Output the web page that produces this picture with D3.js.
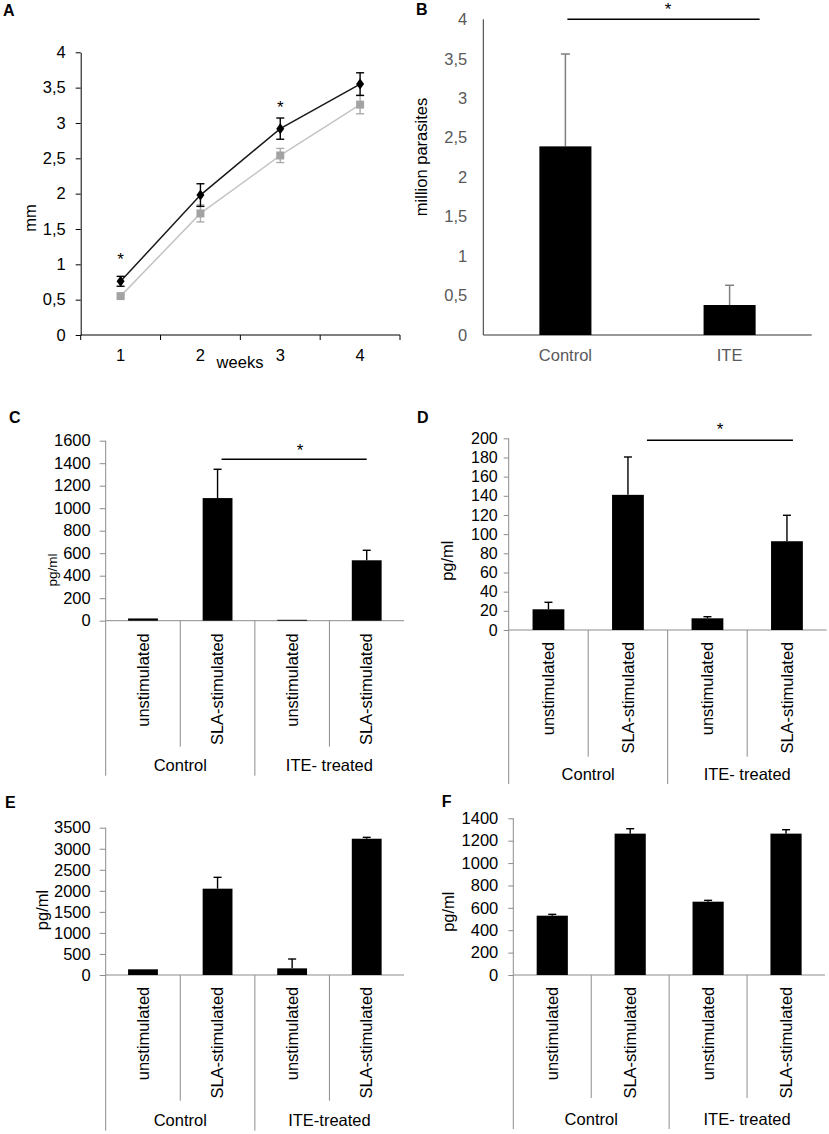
<!DOCTYPE html>
<html>
<head>
<meta charset="utf-8">
<script src="https://cdn.jsdelivr.net/npm/d3@7"></script>
<style>
  body { margin: 0; background: #fff; }
  svg { display: block; }
  text { font-family: "Liberation Sans", Arial, sans-serif; }
</style>
</head>
<body>
<div id="fig"></div>
<script>
// Panel A: lesion size (mm) per week
var weeks = [1, 2, 3, 4];
var controlLesion = [0.76, 1.98, 2.92, 3.55];
var controlLesionErr = [0.07, 0.16, 0.15, 0.16];
var iteLesion = [0.55, 1.72, 2.54, 3.26];
var iteLesionErr = [0.02, 0.12, 0.10, 0.13];
var lesionStarWeeks = [1, 3];
var lesionStarValues = [1.12, 3.27];

// Panel B: parasite load
var parasiteGroups = ["Control", "ITE"];
var parasiteValues = [2.39, 0.38];
var parasiteErr = [1.17, 0.25];

// Panels C-F: cytokines (pg/ml)
var stimLabels = ["unstimulated", "SLA-stimulated", "unstimulated", "SLA-stimulated"];
var treatGroups = ["Control", "ITE- treated"];
var treatGroupsE = ["Control", "ITE-treated"];
var cValues = [20, 1090, 8, 537];
var cErr = [0, 256, 0, 89];
var dValues = [21.6, 141, 12.2, 92.6];
var dErr = [7.3, 39.5, 1.7, 27.1];
var eValues = [135, 2051, 158, 3238];
var eErr = [0, 270, 222, 33];
var fValues = [530, 1263, 655, 1263];
var fErr = [12, 44, 12, 35];

var width = 829, height = 1134;
var axisGray = "#8c8c8c";
var comma = function(d) { return String(d).replace(".", ","); };

var svg = d3.select("#fig").append("svg")
    .attr("width", width)
    .attr("height", height);

var letter = function(t, x, y) {
  svg.append("text").text(t)
     .attr("x", x).attr("y", y)
     .attr("font-size", 16).attr("font-weight", "bold");
};

var vLabel = function(t, x, y, size, color) {
  svg.append("text").text(t)
     .attr("transform", "translate(" + x + "," + y + ") rotate(-90)")
     .attr("text-anchor", "middle")
     .attr("font-size", size)
     .attr("fill", color || "#000");
};

// ---------- Panel A ----------
(function() {
  var xA = d3.scaleBand().domain(weeks).range([80.7, 400]);
  var yA = d3.scaleLinear().domain([0, 4]).range([335, 52.3]);
  var cx = function(w) { return xA(w) + xA.bandwidth() / 2; };
  var g = svg.append("g");

  var ya = g.append("g").attr("transform", "translate(80.7,0)")
    .call(d3.axisLeft(yA).tickValues(d3.range(0, 4.01, 0.5)).tickSize(5).tickPadding(10)
          .tickSizeOuter(0).tickFormat(comma));
  ya.selectAll("text").attr("font-size", 16.5).attr("fill", "#000").attr("font-family", null);
  ya.selectAll("line, path").attr("stroke", "#000");

  g.append("line").attr("x1", 80.7).attr("x2", 400).attr("y1", yA(0)).attr("y2", yA(0))
   .attr("stroke", "#000");
  var bounds = weeks.map(function(w) { return xA(w); }).concat([xA(4) + xA.bandwidth()]);
  g.selectAll(".xt").data(bounds).enter().append("line")
   .attr("x1", function(d) { return d; }).attr("x2", function(d) { return d; })
   .attr("y1", yA(0)).attr("y2", yA(0) + 5).attr("stroke", "#000");
  g.selectAll(".xl").data(weeks).enter().append("text")
   .text(function(d) { return d; })
   .attr("x", cx).attr("y", 360.7)
   .attr("text-anchor", "middle").attr("font-size", 16.5);
  g.append("text").text("weeks").attr("x", 240).attr("y", 368)
   .attr("text-anchor", "middle").attr("font-size", 16.5);
  vLabel("mm", 36, 218, 16.5);

  var series = [
    { v: iteLesion, e: iteLesionErr, line: "#c4c4c4", mark: "#a3a3a3", err: "#ababab", shape: "square" },
    { v: controlLesion, e: controlLesionErr, line: "#1a1a1a", mark: "#000", err: "#000", shape: "diamond" }
  ];
  series.forEach(function(s) {
    var pts = weeks.map(function(w, i) { return { w: w, v: s.v[i], e: s.e[i] }; });
    g.append("path").datum(pts)
     .attr("d", d3.line().x(function(d) { return cx(d.w); }).y(function(d) { return yA(d.v); }))
     .attr("fill", "none").attr("stroke", s.line).attr("stroke-width", 1.5);
    var eb = g.selectAll(null).data(pts).enter().append("g").attr("stroke", s.err).attr("stroke-width", 1.4);
    eb.append("line").attr("x1", function(d) { return cx(d.w); }).attr("x2", function(d) { return cx(d.w); })
      .attr("y1", function(d) { return yA(d.v - d.e); }).attr("y2", function(d) { return yA(d.v + d.e); });
    [1, -1].forEach(function(sg) {
      eb.append("line").attr("x1", function(d) { return cx(d.w) - 4; }).attr("x2", function(d) { return cx(d.w) + 4; })
        .attr("y1", function(d) { return yA(d.v + sg * d.e); }).attr("y2", function(d) { return yA(d.v + sg * d.e); });
    });
    g.selectAll(null).data(pts).enter().append("path")
     .attr("transform", function(d) { return "translate(" + cx(d.w) + "," + yA(d.v) + ")"; })
     .attr("d", s.shape === "square" ? "M-4,-4H4V4H-4Z" : "M0,-5.5L4,0L0,5.5L-4,0Z")
     .attr("fill", s.mark);
  });
  g.selectAll(".star").data(lesionStarWeeks).enter().append("text")
   .text("*")
   .attr("x", cx)
   .attr("y", function(d, i) { return yA(lesionStarValues[i]) + 9; })
   .attr("text-anchor", "middle").attr("font-size", 17);
})();
letter("A", 3, 16);

// ---------- Panel B ----------
(function() {
  var xB = d3.scaleBand().domain(parasiteGroups).range([483.3, 811.7]).paddingInner(0.683).paddingOuter(0.3415);
  var yB = d3.scaleLinear().domain([0, 4]).range([335, 19.3]);
  var bw = xB.bandwidth();
  var g = svg.append("g");

  var ya = g.append("g").attr("transform", "translate(483.3,0)")
    .call(d3.axisLeft(yB).tickValues(d3.range(0, 4.01, 0.5)).tickSize(0).tickPadding(16).tickFormat(comma));
  ya.select(".domain").remove();
  ya.selectAll("text").attr("font-size", 16.5).attr("fill", "#595959").attr("font-family", null);
  g.append("line").attr("x1", 483.3).attr("x2", 483.3).attr("y1", yB(4)).attr("y2", yB(0)).attr("stroke", "#333");
  g.append("line").attr("x1", 483.3).attr("x2", 811.7).attr("y1", yB(0)).attr("y2", yB(0)).attr("stroke", "#333");

  var pts = parasiteGroups.map(function(c, i) { return { c: c, v: parasiteValues[i], e: parasiteErr[i] }; });
  var eb = g.selectAll(null).data(pts).enter().append("g").attr("stroke", "#7f7f7f").attr("stroke-width", 1.5);
  eb.append("line").attr("x1", function(d) { return xB(d.c) + bw / 2; }).attr("x2", function(d) { return xB(d.c) + bw / 2; })
    .attr("y1", function(d) { return yB(d.v); }).attr("y2", function(d) { return yB(d.v + d.e); });
  eb.append("line").attr("x1", function(d) { return xB(d.c) + bw / 2 - 4.5; }).attr("x2", function(d) { return xB(d.c) + bw / 2 + 4.5; })
    .attr("y1", function(d) { return yB(d.v + d.e); }).attr("y2", function(d) { return yB(d.v + d.e); });
  g.selectAll(null).data(pts).enter().append("rect")
   .attr("x", function(d) { return xB(d.c); }).attr("width", bw)
   .attr("y", function(d) { return yB(d.v); }).attr("height", function(d) { return yB(0) - yB(d.v); })
   .attr("fill", "#000");

  g.selectAll(null).data(parasiteGroups).enter().append("text")
   .text(function(d) { return d; })
   .attr("x", function(d) { return xB(d) + bw / 2; }).attr("y", 361)
   .attr("text-anchor", "middle").attr("font-size", 16.5).attr("fill", "#595959");

  var s0 = xB("Control") + bw / 2 + 2, s1 = xB("ITE") + bw + 4;
  g.append("line").attr("x1", s0).attr("x2", s1).attr("y1", yB(4)).attr("y2", yB(4))
   .attr("stroke", "#000").attr("stroke-width", 1.5);
  g.append("text").text("*").attr("x", 668).attr("y", yB(4) - 4)
   .attr("text-anchor", "middle").attr("font-size", 17);
  vLabel("million parasites", 427, 157, 16.5);
})();
letter("B", 416, 15);

// ---------- Panels C-F ----------
var barPanel = function(o) {
  var g = svg.append("g");
  var idx = d3.range(o.values.length);
  var x = d3.scaleBand().domain(idx).range([o.left, o.right]).paddingInner(0.6).paddingOuter(0.3);
  var y = d3.scaleLinear().domain([0, o.max]).range([o.base, o.top]);
  var bw = x.bandwidth(), step = x.step();
  var cx = function(i) { return x(i) + bw / 2; };
  var edge = function(i) { return x(i) - x.paddingOuter() * step; };

  var ya = g.append("g").attr("transform", "translate(" + o.left + ",0)")
    .call(d3.axisLeft(y).tickValues(d3.range(0, o.max + 1e-6, o.step)).tickSize(o.tick).tickPadding(o.pad)
          .tickFormat(d3.format("d")));
  ya.select(".domain").remove();
  ya.selectAll("line").attr("stroke", axisGray);
  ya.selectAll("text").attr("font-size", o.tickFont || 16.5).attr("fill", "#000").attr("font-family", null);

  // category separators
  idx.forEach(function(i) {
    var outer = i % 2 === 0;
    g.append("line").attr("x1", edge(i)).attr("x2", edge(i))
     .attr("y1", i === 0 ? o.top : o.base)
     .attr("y2", o.base + (outer ? o.outerLen : o.innerLen))
     .attr("stroke", axisGray);
  });
  g.append("line").attr("x1", o.left).attr("x2", o.right).attr("y1", o.base).attr("y2", o.base)
   .attr("stroke", axisGray);

  var pts = idx.map(function(i) { return { i: i, v: o.values[i], e: o.errors[i] }; });
  var eb = g.selectAll(null).data(pts.filter(function(d) { return d.e > 0; })).enter().append("g")
    .attr("stroke", "#000").attr("stroke-width", 1.4);
  eb.append("line").attr("x1", function(d) { return cx(d.i); }).attr("x2", function(d) { return cx(d.i); })
    .attr("y1", function(d) { return y(d.v); }).attr("y2", function(d) { return y(d.v + d.e); });
  eb.append("line").attr("x1", function(d) { return cx(d.i) - 4; }).attr("x2", function(d) { return cx(d.i) + 4; })
    .attr("y1", function(d) { return y(d.v + d.e); }).attr("y2", function(d) { return y(d.v + d.e); });
  g.selectAll(null).data(pts).enter().append("rect")
   .attr("x", function(d) { return x(d.i); }).attr("width", bw)
   .attr("y", function(d) { return y(d.v); }).attr("height", function(d) { return o.base - y(d.v); })
   .attr("fill", "#000");

  g.selectAll(null).data(idx).enter().append("text")
   .text(function(i) { return o.cats[i]; })
   .attr("transform", function(i) { return "translate(" + cx(i) + "," + (o.base + o.labelGap) + ") rotate(-90)"; })
   .attr("dy", "0.35em").attr("text-anchor", "end").attr("font-size", 16.5);

  g.selectAll(null).data(o.groups).enter().append("text")
   .text(function(d) { return d; })
   .attr("x", function(d, k) { return (edge(2 * k) + edge(2 * k) + 2 * step) / 2; })
   .attr("y", o.base + o.groupY).attr("dy", "0.35em")
   .attr("text-anchor", "middle").attr("font-size", 16.5);

  if (o.sig) {
    var sx0 = cx(o.sig[0]) + o.sigDx[0], sx1 = cx(o.sig[1]) + o.sigDx[1];
    g.append("line").attr("x1", sx0).attr("x2", sx1).attr("y1", y(o.sig[2])).attr("y2", y(o.sig[2]))
     .attr("stroke", "#000").attr("stroke-width", 1.5);
    g.append("text").text("*").attr("x", o.starX).attr("y", y(o.sig[2]) - o.starUp)
     .attr("text-anchor", "middle").attr("font-size", 17);
  }
  vLabel("pg/ml", o.yl[0], o.yl[1], o.ylSize);
};

barPanel({ values: cValues, errors: cErr, cats: stimLabels, groups: treatGroups,
  left: 105.7, right: 404, base: 620.7, top: 440.7, max: 1600, step: 200, tick: 6, pad: 9,
  labelGap: 12.5, innerLen: 126, outerLen: 155, groupY: 145,
  sig: [1, 3, 1435], sigDx: [4, 0], starX: 300, starUp: 3,
  yl: [57, 570], ylSize: 13.5 });
letter("C", 9, 422.7);

barPanel({ values: dValues, errors: dErr, cats: stimLabels, groups: treatGroups,
  left: 508.7, right: 826.7, base: 630, top: 438.3, max: 200, step: 20, tick: 5, pad: 6, tickFont: 16,
  labelGap: 11.7, innerLen: 126.7, outerLen: 154, groupY: 144,
  sig: [1, 3, 198], sigDx: [19, 6], starX: 720, starUp: 5,
  yl: [453.4, 560.7], ylSize: 16.5 });
letter("D", 417, 422.7);

barPanel({ values: eValues, errors: eErr, cats: stimLabels, groups: treatGroupsE,
  left: 105.7, right: 404, base: 975, top: 827.7, max: 3500, step: 500, tick: 6, pad: 9,
  labelGap: 11.7, innerLen: 125.7, outerLen: 155.7, groupY: 145,
  yl: [48.4, 910], ylSize: 16.5 });
letter("E", 5, 808.3);

barPanel({ values: fValues, errors: fErr, cats: stimLabels, groups: treatGroups,
  left: 513.3, right: 825, base: 975, top: 818.3, max: 1400, step: 200, tick: 5, pad: 10,
  labelGap: 11.7, innerLen: 123, outerLen: 154, groupY: 144,
  yl: [454.4, 911.7], ylSize: 16.5 });
letter("F", 441.7, 807.3);
</script>
</body>
</html>
